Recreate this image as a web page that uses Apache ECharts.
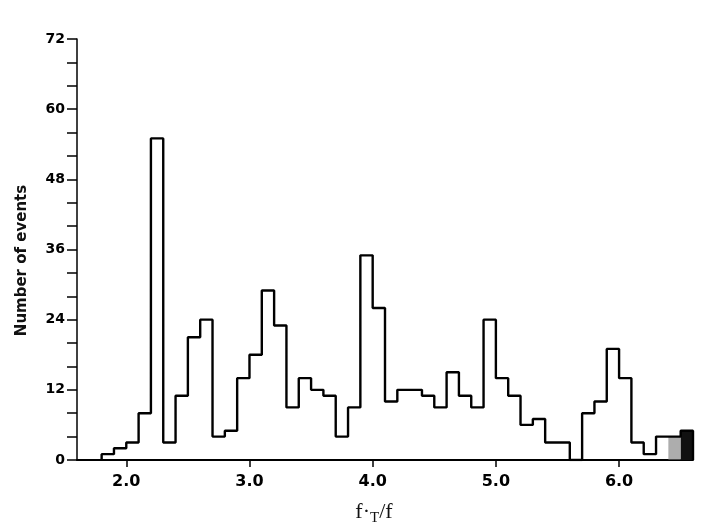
<!DOCTYPE html>
<html>
<head>
<meta charset="utf-8">
<title>Number of events vs fT/f</title>
<script src="https://cdn.jsdelivr.net/npm/echarts@6/dist/echarts.min.js"></script>
<style>
  html, body { margin: 0; padding: 0; background: #fff; }
  #chart { width: 704px; height: 525px; }
</style>
</head>
<body>
<!-- container for the histogram -->
<div id="chart"></div>
<script>
  // bin edges (f_T/f) and event counts per bin
  var binEdges = [1.8, 1.9, 2.0, 2.1, 2.2, 2.3, 2.4, 2.5, 2.6, 2.7, 2.8, 2.9,
                  3.0, 3.1, 3.2, 3.3, 3.4, 3.5, 3.6, 3.7, 3.8, 3.9,
                  4.0, 4.1, 4.2, 4.3, 4.4, 4.5, 4.6, 4.7, 4.8, 4.9,
                  5.0, 5.1, 5.2, 5.3, 5.4, 5.5, 5.6, 5.7, 5.8, 5.9,
                  6.0, 6.1, 6.2, 6.3, 6.4, 6.5, 6.6];
  var eventCounts = [1, 2, 3, 8, 55, 3, 11, 21, 24, 4, 5, 14,
                     18, 29, 23, 9, 14, 12, 11, 4, 9, 35,
                     26, 10, 12, 12, 11, 9, 15, 11, 9, 24,
                     14, 11, 6, 7, 3, 3, 0, 8, 10, 19,
                     14, 3, 1, 4, 4, 5];
  var xTickValues = [2, 3, 4, 5, 6];
  // bins that are printed dark in the original
  var darkBins = [6.5];
  var greyBins = [6.4];

  // step outline: start on the baseline, one point per bin right edge, back down at the end
  var outline = [[binEdges[0], 0]];
  for (var i = 0; i < eventCounts.length; i++) {
    outline.push([binEdges[i + 1], eventCounts[i]]);
  }
  outline.push([binEdges[binEdges.length - 1], 0]);

  function shade(list) {
    return list.map(function (edge) {
      var k = binEdges.indexOf(edge);
      return [{ xAxis: binEdges[k], yAxis: 0 }, { xAxis: binEdges[k + 1], yAxis: eventCounts[k] }];
    });
  }

  var chart = echarts.init(document.getElementById('chart'));
  chart.setOption({
    animation: false,
    backgroundColor: '#fff',
    grid: { left: 77, right: 11, top: 39, bottom: 65, outerBoundsMode: 'none' },
    xAxis: {
      type: 'value',
      min: 1.6,
      max: 6.6,
      name: '{a|f·}{sub|T}{a|/f}',
      nameLocation: 'middle',
      nameGap: 39,
      nameTextStyle: {
        padding: [0, 22, 0, 0],
        rich: {
          a: { fontFamily: 'Liberation Serif', fontSize: 22, color: '#111' },
          sub: { fontFamily: 'Liberation Serif', fontSize: 15, color: '#111', padding: [12, 0, 0, 0] }
        }
      },
      axisLine: { lineStyle: { color: '#000', width: 2 } },
      axisTick: { customValues: xTickValues, length: 7, lineStyle: { color: '#000', width: 1.5 } },
      axisLabel: {
        customValues: xTickValues,
        margin: 14,
        fontFamily: 'DejaVu Sans',
        fontWeight: 'bold',
        fontSize: 16,
        color: '#000',
        formatter: function (v) { return v.toFixed(1); }
      },
      splitLine: { show: false }
    },
    yAxis: {
      type: 'value',
      min: 0,
      max: 72,
      interval: 4,
      name: 'Number of events',
      nameLocation: 'middle',
      nameGap: 47,
      nameTextStyle: {
        fontFamily: 'DejaVu Sans',
        fontWeight: 'bold',
        fontSize: 15,
        color: '#111',
        padding: [0, 22, 0, 0]
      },
      axisLine: { lineStyle: { color: '#000', width: 1.5 } },
      axisTick: { length: 10, lineStyle: { color: '#000', width: 1.5 } },
      axisLabel: {
        margin: 12,
        fontFamily: 'DejaVu Sans',
        fontWeight: 'bold',
        fontSize: 14,
        color: '#000',
        formatter: function (v) { return v % 12 === 0 ? String(v) : ''; }
      },
      splitLine: { show: false }
    },
    series: [
      {
        type: 'line',
        step: 'start',
        data: outline,
        symbol: 'none',
        lineStyle: { color: '#000', width: 2.4 },
        markArea: {
          silent: true,
          itemStyle: { color: '#111' },
          data: shade(darkBins)
        }
      },
      {
        type: 'line',
        data: [],
        markArea: {
          silent: true,
          itemStyle: { color: '#777', opacity: 0.6 },
          data: shade(greyBins)
        }
      }
    ]
  });
</script>
</body>
</html>
